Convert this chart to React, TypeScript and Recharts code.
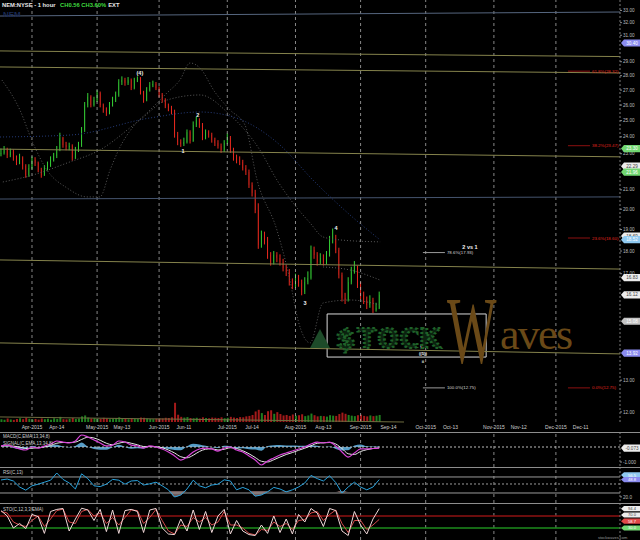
import React from "react";
import {
  ComposedChart,
  Bar,
  Line,
  Area,
  XAxis,
  YAxis,
  ReferenceLine,
  ReferenceArea,
  ReferenceDot,
  Cell,
} from "recharts";

const W = 640;
const MAIN_H = 436;
const FONT = "'Liberation Sans', Arial, sans-serif";
const X_DOMAIN: [number, number] = [-10.32, 189.68];
const PRICE_DOMAIN: [number, number] = [11.7, 33.88];

// x values are trading days counted from Apr 1 2015
const monthStarts = [0, 21, 41, 63, 85, 106, 127, 149, 169];
const monthLabels = ["Apr-2015", "May-2015", "Jun-2015", "Jul-2015", "Aug-2015", "Sep-2015", "Oct-2015", "Nov-2015", "Dec-2015"];
const midMonth = [8, 29, 49, 71, 94, 115, 135, 157, 177];
const midLabels = ["Apr-14", "May-13", "Jun-11", "Jul-14", "Aug-13", "Sep-14", "Oct-13", "Nov-12", "Dec-11"];

const firstDay = -10;
const closes = [
  23.04, 23.22, 22.93, 23.1, 22.76, 22.53, 22.76, 22.3, 21.8, 22.19,
  22.64, 22.47, 22.08, 21.8, 22.19, 22.36, 22.64, 22.87, 23.22, 23.93,
  23.51, 23.39, 23.45, 22.76, 23.22, 23.51, 24.42, 26.0, 26.54, 26.0,
  26.33, 26.8, 26.0, 25.68, 25.49, 26.0, 26.33, 26.67, 27.55, 27.69,
  27.49, 27.69, 27.14, 27.69, 27.83, 26.87, 26.33, 27.01, 27.35, 27.42,
  27.14, 26.67, 26.33, 25.94, 25.81, 25.55, 24.11, 23.69, 23.57, 23.69,
  24.29, 23.75, 24.73, 25.04, 24.73, 23.93, 24.29, 24.11, 23.81, 23.63,
  23.45, 23.22, 23.63, 23.93, 23.22, 22.76, 22.64, 22.53, 22.19, 21.97,
  21.26, 20.84, 19.96, 18.28, 18.75, 18.51, 17.82, 17.51, 17.82, 17.69,
  17.51, 17.25, 17.08, 16.65, 16.53, 16.82, 16.61, 16.24, 16.65, 16.82,
  18.05, 17.82, 17.51, 17.69, 17.51, 17.82, 18.51, 18.61, 18.05, 16.95,
  16.0, 15.91, 16.65, 17.08, 17.25, 16.53, 16.12, 15.91, 15.71, 15.91,
  15.52, 15.6, 16.12,
];
const highs = [
  23.3, 23.45, 23.35, 23.3, 23.25, 22.9, 23.0, 22.85, 22.4, 22.4,
  22.85, 22.8, 22.55, 22.2, 22.35, 22.55, 22.85, 23.05, 23.45, 24.25,
  24.0, 23.7, 23.65, 23.55, 23.4, 23.7, 24.6, 26.2, 26.8, 26.65,
  26.55, 27.0, 26.9, 26.1, 25.85, 26.2, 26.55, 26.9, 27.75, 27.95,
  27.85, 27.9, 27.8, 27.85, 27.95, 27.9, 26.95, 27.2, 27.55, 27.65,
  27.55, 27.25, 26.8, 26.45, 26.1, 25.95, 25.7, 24.3, 23.85, 23.95,
  24.45, 24.4, 24.95, 25.25, 25.15, 24.85, 24.45, 24.4, 24.25, 23.95,
  23.8, 23.6, 23.8, 24.2, 24.05, 23.35, 22.95, 22.85, 22.65, 22.35,
  22.1, 21.4, 21.0, 20.3, 18.95, 18.9, 18.65, 17.95, 18.0, 17.95,
  17.85, 17.65, 17.4, 17.2, 16.8, 17.0, 16.95, 16.75, 16.85, 17.1,
  18.25, 18.2, 17.95, 17.9, 17.85, 18.0, 18.7, 19.05, 18.75, 18.15,
  17.05, 16.2, 16.85, 17.3, 17.55, 17.35, 16.65, 16.25, 16.05, 16.1,
  16.0, 15.8, 16.25,
];
const lows = [
  22.85, 22.95, 22.75, 22.8, 22.6, 22.35, 22.4, 22.1, 21.65, 21.7,
  22.1, 22.3, 21.95, 21.65, 21.75, 22.05, 22.25, 22.55, 22.75, 23.15,
  23.35, 23.2, 23.2, 22.6, 22.7, 23.1, 23.4, 24.3, 25.85, 25.85,
  25.9, 26.2, 25.85, 25.5, 25.3, 25.4, 25.9, 26.2, 26.55, 27.35,
  27.3, 27.35, 27.0, 27.05, 27.55, 26.7, 26.15, 26.25, 26.9, 27.2,
  27.0, 26.5, 26.15, 25.8, 25.6, 25.4, 23.95, 23.5, 23.4, 23.45,
  23.6, 23.6, 23.7, 24.6, 24.55, 23.8, 23.85, 23.95, 23.65, 23.45,
  23.3, 23.05, 23.1, 23.55, 23.05, 22.6, 22.45, 22.35, 22.05, 21.8,
  21.1, 20.65, 19.8, 18.1, 18.15, 18.3, 17.65, 17.35, 17.4, 17.5,
  17.35, 17.1, 16.9, 16.5, 16.35, 16.4, 16.45, 16.1, 16.15, 16.55,
  16.75, 17.65, 17.35, 17.4, 17.35, 17.4, 17.75, 18.35, 17.9, 16.8,
  15.85, 15.75, 15.85, 16.55, 17.0, 16.4, 15.95, 15.75, 15.55, 15.6,
  15.4, 15.45, 15.55,
];
const volumes = [
  1.2, 1.0, 1.5, 1.1, 0.9, 1.3, 1.6, 1.2, 1.8, 1.4,
  1.1, 1.3, 1.0, 1.5, 1.2, 1.4, 1.0, 1.6, 1.3, 2.2,
  1.2, 1.1, 1.4, 1.7, 1.3, 1.5, 2.4, 2.8, 1.9, 1.5,
  1.6, 1.4, 1.3, 1.8, 1.5, 1.2, 1.4, 1.6, 2.0, 1.5,
  1.3, 1.2, 1.6, 1.4, 1.3, 1.9, 1.8, 1.5, 1.3, 1.2,
  1.4, 1.6, 1.5, 1.8, 1.7, 2.0, 8.2, 3.1, 2.2, 1.9,
  2.1, 1.7, 1.6, 1.8, 1.5, 2.0, 1.7, 1.6, 1.9, 1.8,
  1.7, 2.0, 1.6, 1.8, 2.2, 1.9, 1.7, 2.1, 2.0, 2.4,
  2.6, 3.0, 4.5, 5.2, 3.8, 3.0, 4.6, 5.0, 3.5, 4.2,
  3.4, 2.8, 3.0, 2.6, 3.2, 2.7, 2.9, 3.3, 2.5, 2.8,
  3.6, 2.9, 2.4, 2.6, 2.5, 2.3, 2.9, 2.7, 2.6, 3.4,
  4.0, 3.5, 3.0, 2.7, 2.5, 2.9, 3.1, 2.6, 2.4, 2.8,
  2.5, 2.7, 3.0,
];

// labels under the value tags are not drawn
const priceTicks = [12, 13, 17, 18, 19, 20, 21, 23, 24, 25, 26, 27, 28, 29, 31, 32, 33];

// dotted envelope lines, [day, price]
const envelopeA: [number, number][] = [
  [-9.7, 27.69], [-3.9, 25.68], [0.3, 23.63], [4.8, 22.08], [11.3, 21.1], [17.7, 20.63], [21.9, 20.63],
  [25.2, 22.08], [28.4, 23.39], [32.6, 24.61], [38.1, 25.68], [43.5, 26.8], [47.7, 27.69], [51, 28.91],
  [54.2, 28.54], [59, 26.87], [63.9, 25.68], [68.7, 24.73], [72.6, 21.53], [79, 18.98], [83.2, 16.73],
  [85.8, 15.13], [89.7, 14.28], [93.9, 15.79], [102.6, 15.91], [112.3, 15.71],
];
const envelopeB: [number, number][] = [
  [-9.4, 21.42], [0.3, 21.8], [11.3, 22.47], [21.9, 23.22], [34.8, 25.04], [43.5, 26.33], [54.2, 26.67],
  [63.9, 25.36], [73.5, 23.22], [79, 21.53], [84.2, 20.32], [89.7, 19.32], [93.9, 18.65], [99.4, 18.51],
  [112.3, 18.42],
];
const envelopeMid: [number, number][] = [[93.9, 17.29], [102.6, 17.16], [112.3, 16.73]];
const longAverage: [number, number][] = [
  [-10.3, 23.99], [12.3, 24.11], [38.1, 25.17], [54.2, 25.55], [64.8, 25.24], [80, 23.51],
  [90.6, 21.53], [102.6, 19.71], [112.3, 18.51],
];

// trend lines: price at left edge, price at right end, day of right end
const trendLeft = [32.54, 29.8, 28.62, 23.27, 20.52, 17.6, 14.28, 11.85];
const trendRight = [32.87, 29.38, 28.19, 22.82, 20.63, 17.2, 13.89, 11.7];
const trendEnd = [189.68, 189.68, 189.68, 189.68, 189.68, 189.68, 189.68, 120];
const TREND_COLORS = ["#56667f", "#85834c", "#85834c", "#85834c", "#45546e", "#85834c", "#85834c", "#6f6d40"];

const fibRight: [string, number][] = [["61.8%", 28.32], ["38.2%", 23.47], ["23.6%", 18.6], ["0.0%", 12.75]];
const fibLeft: [string, number][] = [["78.6%", 17.93], ["100.0%", 12.75]];

const waveLabels: [string, number, number][] = [
  ["(4)", 34.8, 28.19], ["1", 48.7, 23.16], ["2", 53.5, 25.36], ["3", 88.1, 15.79], ["4", 98.1, 19.05],
];
const waveStack: [string, number][] = [["5", 14.45], ["(5)", 14.17], ["((5))", 13.89], ["ii", 13.61]];

const priceTags: [string, number, string][] = [
  ["30.40", 30.4, "blue"], ["23.30", 23.3, "green"], ["22.29", 22.29, "white"], ["21.96", 21.96, "green"],
  ["18.69", 18.69, "white"], ["18.52", 18.52, "sky"], ["16.83", 16.83, "white"], ["16.12", 16.12, "white"],
  ["15.08", 15.08, "gray"], ["13.92", 13.92, "blue"],
];
const TAG_STYLE: Record<string, [string, string]> = {
  blue: ["#8b8cf0", "#ffffff"],
  green: ["#72d772", "#ffffff"],
  white: ["#ececec", "#444444"],
  sky: ["#8fc9f1", "#ffffff"],
  gray: ["#c4c4c4", "#ffffff"],
  red: ["#e04848", "#ffffff"],
};

// oscillators, sampled every 2nd day from day -10
const macd = [
  0.07, 0.13, 0, -0.13, -0.2, 0, -0.07, 0.07, 0.2, 0.4,
  0.33, 0.27, 0.4, 0.8, 0.67, 0.47, 0.27, 0.07, 0.13, 0.4,
  0.33, 0.13, 0.07, -0.07, 0.07, 0, -0.13, -0.33, -0.6, -0.87,
  -0.67, -0.33, -0.13, -0.07, -0.13, -0.27, -0.07, 0, -0.2, -0.33,
  -0.6, -0.87, -1.2, -0.93, -0.73, -0.53, -0.4, -0.27, -0.13, 0,
  0.2, 0.33, 0.27, 0.33, 0.07, -0.33, -0.67, -0.4, -0.13, -0.13,
  -0.1, -0.07,
];
const signal = [
  0.05, 0.08, 0.06, 0, -0.1, -0.08, -0.05, 0, 0.1, 0.25,
  0.3, 0.3, 0.33, 0.5, 0.65, 0.6, 0.45, 0.25, 0.15, 0.25,
  0.33, 0.25, 0.15, 0.03, 0.02, 0.02, -0.05, -0.2, -0.4, -0.65,
  -0.72, -0.55, -0.3, -0.15, -0.12, -0.2, -0.15, -0.05, -0.1, -0.25,
  -0.45, -0.7, -0.95, -1.0, -0.85, -0.67, -0.5, -0.37, -0.22, -0.08,
  0.08, 0.25, 0.28, 0.3, 0.2, -0.1, -0.45, -0.5, -0.3, -0.18,
  -0.1, -0.05,
];
const macdHist = [
  0.02, 0.05, -0.06, -0.13, -0.1, 0.08, -0.02, 0.07, 0.1, 0.15,
  0.03, -0.03, 0.07, 0.3, 0.02, -0.13, -0.18, -0.18, -0.02, 0.15,
  0, -0.12, -0.08, -0.1, 0.05, -0.02, -0.08, -0.13, -0.2, -0.22,
  0.05, 0.22, 0.17, 0.08, -0.01, -0.07, 0.08, 0.05, -0.1, -0.08,
  -0.15, -0.17, -0.25, 0.07, 0.12, 0.14, 0.1, 0.1, 0.09, 0.08,
  0.12, 0.08, -0.01, 0.03, -0.13, -0.23, -0.22, 0.1, 0.17, 0.05,
  0.03, 0.05,
];
const rsi = [
  48.2, 49.8, 46.5, 36.5, 31.2, 38.5, 41.2, 44.5, 47.8, 59.8,
  49.2, 43.2, 33.2, 58.5, 50.5, 38.5, 37.2, 41.2, 49.2, 47.8,
  41.2, 46.5, 47.2, 39.8, 41.8, 44.5, 38.5, 31.8, 19.8, 23.2,
  33.2, 47.8, 38.5, 35.2, 39.8, 41.2, 48.5, 46.5, 31.8, 35.8,
  31.8, 21.2, 23.2, 28.5, 35.8, 33.2, 28.5, 31.8, 36.5, 43.2,
  55.8, 50.5, 46.5, 55.2, 43.8, 26.5, 36.5, 44.5, 36.5, 31.8,
  36.5, 48.8,
];
const stochK = [
  88, 70, 30, 45, 28, 75, 68, 12, 85, 92,
  95, 20, 60, 96, 90, 55, 92, 18, 90, 12,
  88, 92, 85, 15, 90, 95, 30, 10, 8, 60,
  20, 90, 25, 85, 15, 70, 92, 10, 55, 20,
  8, 5, 40, 12, 70, 15, 60, 10, 75, 50,
  95, 80, 35, 95, 88, 20, 5, 85, 40, 10,
  60, 94.4,
];
const stochD = [
  85, 80, 50, 40, 35, 55, 70, 35, 60, 88,
  93, 50, 45, 85, 92, 70, 80, 45, 65, 40,
  65, 90, 88, 45, 65, 92, 55, 20, 10, 40,
  35, 65, 50, 65, 40, 50, 85, 40, 40, 30,
  12, 7, 25, 22, 50, 35, 45, 25, 55, 58,
  80, 85, 55, 75, 90, 45, 15, 55, 55, 25,
  40, 58.7,
];
const RSI_FLOOR = 30;
const rsiLevels = [53.2, 26.5];
const rsiMid = 41.5;
const stochLevels = [70, 30];

const candles = closes.map((c, k) => {
  const o = k === 0 ? c : closes[k - 1];
  return { i: firstDay + k, open: o, close: c, high: highs[k], low: lows[k], range: [lows[k], highs[k]], vol: volumes[k], up: c >= o };
});
const oscRows = macd.map((m, k) => ({
  i: firstDay + 2 * k,
  macd: m,
  signal: signal[k],
  hist: macdHist[k],
  rsi: rsi[k],
  rsiLow: [Math.min(rsi[k], RSI_FLOOR), RSI_FLOOR],
  k: stochK[k],
  d: stochD[k],
}));
const pairs = (pts: [number, number][]) => pts.map(([i, v]) => ({ i, v }));

const dateLabel = (v: number) => {
  const a = monthStarts.indexOf(v);
  if (a >= 0) return monthLabels[a];
  const b = midMonth.indexOf(v);
  return b >= 0 ? midLabels[b] : "";
};

// the bar spans low..high on a log axis, so the body is placed inside it in log space
const CandleShape = (props: any) => {
  const { x, y, width, height, payload } = props;
  if (x == null || y == null || !payload) return null;
  const top = height < 0 ? y + height : y;
  const h = Math.abs(height);
  const span = Math.log(payload.high) - Math.log(payload.low) || 1;
  const at = (p: number) => top + (h * (Math.log(payload.high) - Math.log(p))) / span;
  const b1 = at(Math.max(payload.open, payload.close));
  const b2 = at(Math.min(payload.open, payload.close));
  const color = payload.up ? "#36d136" : "#ec2a1f";
  return (
    <g>
      <line x1={x + width / 2} x2={x + width / 2} y1={top} y2={top + h} stroke={color} strokeWidth={1} />
      <rect x={x} y={b1} width={width} height={Math.max(b2 - b1, 1.2)} fill={color} />
    </g>
  );
};

const Tag = (props: any) => {
  const { viewBox, text, kind, dy = 0, half = 3.6, size = 4.6 } = props;
  if (!viewBox) return null;
  const [bg, fg] = TAG_STYLE[kind];
  const x = viewBox.x + viewBox.width + 1;
  const y = viewBox.y + dy;
  return (
    <g>
      <path d={`M${x},${y} L${x + 3},${y - half} L${x + 19},${y - half} L${x + 19},${y + half} L${x + 3},${y + half} Z`} fill={bg} />
      <text x={x + 11} y={y + size * 0.36} textAnchor="middle" fontSize={size} fill={fg} fontFamily={FONT}>{text}</text>
    </g>
  );
};

const SideText = (props: any) => {
  const { viewBox, text, color } = props;
  if (!viewBox) return null;
  return (
    <text x={viewBox.x + viewBox.width + 2} y={viewBox.y + 1.6} fontSize={4.4} fill={color} fontFamily={FONT}>{text}</text>
  );
};

const WaveText = (props: any) => {
  const { viewBox, text, size } = props;
  if (!viewBox) return null;
  return (
    <text x={viewBox.x + viewBox.width / 2} y={viewBox.y + viewBox.height / 2} dy="0.35em" textAnchor="middle" fontSize={size} fontWeight="bold" fill="#f0f0f0" fontFamily={FONT}>
      {text}
    </text>
  );
};

const monthGrid = () =>
  monthStarts.map((m) => <ReferenceLine key={`m${m}`} x={m} stroke="#b4b4b4" strokeOpacity={0.75} strokeDasharray="3 3" />);

const axisLine = { stroke: "#7a7a7a", strokeDasharray: "2 2" };
const axisTick = { fill: "#bdbdbd", fontSize: 4.6, fontFamily: FONT };

export default function App() {
  return (
    <div style={{ position: "absolute", left: 0, top: 0, width: W, height: 540, background: "#000", overflow: "hidden" }}>
      {/* volume under the prices */}
      <div style={{ position: "absolute", left: 0, top: 0 }}>
        <ComposedChart width={W} height={MAIN_H} data={candles} margin={{ top: 0, right: 20, bottom: 14, left: 0 }}>
          <XAxis dataKey="i" type="number" domain={X_DOMAIN} allowDataOverflow hide />
          <YAxis domain={[0, 180]} allowDataOverflow hide />
          <Bar dataKey="vol" barSize={2} isAnimationActive={false}>
            {candles.map((c, k) => (
              <Cell key={k} fill={c.up ? "#1f7f1f" : "#a31a1a"} />
            ))}
          </Bar>
        </ComposedChart>
      </div>

      <div style={{ position: "absolute", left: 0, top: 0 }}>
        <ComposedChart width={W} height={MAIN_H} data={candles} margin={{ top: 0, right: 0, bottom: 0, left: 0 }}>
          <XAxis
            dataKey="i"
            type="number"
            domain={X_DOMAIN}
            allowDataOverflow
            ticks={[...monthStarts, ...midMonth]}
            interval={0}
            tickFormatter={dateLabel}
            height={14}
            axisLine={false}
            tickLine={false}
            tickSize={0}
            tickMargin={3}
            tick={{ fill: "#cfcfcf", fontSize: 5, fontFamily: FONT }}
          />
          <YAxis
            orientation="right"
            width={20}
            scale="log"
            domain={PRICE_DOMAIN}
            allowDataOverflow
            ticks={priceTicks}
            interval={0}
            tickFormatter={(v: number) => v.toFixed(2)}
            axisLine={axisLine}
            tickLine={{ stroke: "#8a8a8a" }}
            tickSize={2}
            tickMargin={1}
            tick={axisTick}
          />
          {monthGrid()}
          {trendLeft.map((p, k) => (
            <ReferenceLine
              key={`t${k}`}
              segment={[{ x: X_DOMAIN[0], y: p }, { x: trendEnd[k], y: trendRight[k] }]}
              stroke={TREND_COLORS[k]}
              strokeWidth={1}
              ifOverflow="visible"
            />
          ))}
          <Line data={pairs(envelopeA)} dataKey="v" type="monotone" stroke="#5a5a5a" strokeDasharray="1 2" dot={false} activeDot={false} isAnimationActive={false} />
          <Line data={pairs(envelopeB)} dataKey="v" type="monotone" stroke="#5a5a5a" strokeDasharray="1 2" dot={false} activeDot={false} isAnimationActive={false} />
          <Line data={pairs(envelopeMid)} dataKey="v" type="monotone" stroke="#5a5a5a" strokeDasharray="1 2" dot={false} activeDot={false} isAnimationActive={false} />
          <Line data={pairs(longAverage)} dataKey="v" type="monotone" stroke="#263c7a" strokeDasharray="1 2" dot={false} activeDot={false} isAnimationActive={false} />
          <Bar dataKey="range" barSize={3} shape={<CandleShape />} isAnimationActive={false} />
          {fibRight.map(([pct, v]) => (
            <ReferenceLine
              key={`fr${pct}`}
              segment={[{ x: 172.9, y: v }, { x: 180, y: v }]}
              stroke="#8c1010"
              label={<SideText text={`${pct}(${v.toFixed(2)})`} color="#e0261e" />}
            />
          ))}
          {fibLeft.map(([pct, v]) => (
            <ReferenceLine
              key={`fl${pct}`}
              segment={[{ x: 126.1, y: v }, { x: 133.2, y: v }]}
              stroke="#9a9a9a"
              label={<SideText text={`${pct}(${v.toFixed(2)})`} color="#d8d8d8" />}
            />
          ))}
          <ReferenceArea x1={95.2} x2={146.5} y1={13.78} y2={15.36} fill="none" stroke="#d9d9d9" strokeWidth={1} ifOverflow="visible" />
          {waveLabels.map(([t, i, v]) => (
            <ReferenceDot key={`w${t}`} x={i} y={v} r={0} stroke="none" label={<WaveText text={t} size={5.5} />} />
          ))}
          {waveStack.map(([t, v]) => (
            <ReferenceDot key={`s${t}`} x={126.1} y={v} r={0} stroke="none" label={<WaveText text={t} size={4.2} />} />
          ))}
          <ReferenceDot x={141.3} y={18.19} r={0} stroke="none" label={<WaveText text="2 vs 1" size={5.5} />} />
        </ComposedChart>
      </div>

      {/* price tags on the right axis */}
      <div style={{ position: "absolute", left: 0, top: 0 }}>
        <ComposedChart width={W} height={MAIN_H} data={candles} margin={{ top: 0, right: 20, bottom: 14, left: 0 }}>
          <XAxis dataKey="i" type="number" domain={X_DOMAIN} allowDataOverflow hide />
          <YAxis scale="log" domain={PRICE_DOMAIN} allowDataOverflow hide />
          {priceTags.map(([t, v, kind]) => (
            <ReferenceLine key={`p${t}`} y={v} stroke="none" label={<Tag text={t} kind={kind} />} />
          ))}
        </ComposedChart>
      </div>

      {/* MACD */}
      <div style={{ position: "absolute", left: 0, top: 432 }}>
        <ComposedChart width={W} height={35} data={oscRows} margin={{ top: 0, right: 0, bottom: 0, left: 0 }}>
          <XAxis dataKey="i" type="number" domain={X_DOMAIN} allowDataOverflow hide />
          <YAxis
            orientation="right"
            width={20}
            domain={[-1.333, 1.0]}
            allowDataOverflow
            ticks={[-1]}
            tickFormatter={(v: number) => v.toFixed(3)}
            axisLine={axisLine}
            tickLine={{ stroke: "#8a8a8a" }}
            tickSize={2}
            tickMargin={1}
            tick={axisTick}
          />
          {monthGrid()}
          <ReferenceLine y={0} stroke="#bdbdbd" strokeDasharray="2 2" />
          <Area dataKey="hist" type="monotone" baseValue={0} fill="#65b9ea" fillOpacity={0.85} stroke="none" isAnimationActive={false} />
          <Line dataKey="signal" type="monotone" stroke="#e6e6e6" strokeWidth={1} dot={false} isAnimationActive={false} />
          <Line dataKey="macd" type="monotone" stroke="#d844d8" strokeWidth={1.2} dot={false} isAnimationActive={false} />
          <ReferenceLine y={-0.073} stroke="none" label={<Tag text="-0.073" kind="white" />} />
        </ComposedChart>
      </div>

      {/* RSI */}
      <div style={{ position: "absolute", left: 0, top: 467 }}>
        <ComposedChart width={W} height={36} data={oscRows} margin={{ top: 0, right: 0, bottom: 0, left: 0 }}>
          <XAxis dataKey="i" type="number" domain={X_DOMAIN} allowDataOverflow hide />
          <YAxis
            orientation="right"
            width={20}
            domain={[9.83, 69.83]}
            allowDataOverflow
            ticks={[20]}
            tickFormatter={(v: number) => v.toFixed(1)}
            axisLine={axisLine}
            tickLine={{ stroke: "#8a8a8a" }}
            tickSize={2}
            tickMargin={1}
            tick={axisTick}
          />
          {monthGrid()}
          {rsiLevels.map((l) => (
            <ReferenceLine key={`r${l}`} y={l} stroke="#9a9a9a" />
          ))}
          <ReferenceLine y={rsiMid} stroke="#9a9a9a" strokeDasharray="2 2" />
          <Area dataKey="rsiLow" type="monotone" fill="#7d6464" fillOpacity={0.9} stroke="none" isAnimationActive={false} />
          <Line dataKey="rsi" type="linear" stroke="#2aa2dc" strokeWidth={1} dot={false} isAnimationActive={false} />
          <ReferenceLine y={56.5} stroke="none" label={<Tag text="56.5" kind="sky" half={2.7} size={4.2} />} />
          <ReferenceLine y={48.8} stroke="none" label={<Tag text="48.8" kind="blue" half={2.7} size={4.2} />} />
        </ComposedChart>
      </div>

      {/* Stochastic */}
      <div style={{ position: "absolute", left: 0, top: 503 }}>
        <ComposedChart width={W} height={37} data={oscRows} margin={{ top: 0, right: 0, bottom: 0, left: 0 }}>
          <XAxis dataKey="i" type="number" domain={X_DOMAIN} allowDataOverflow hide />
          <YAxis orientation="right" width={20} domain={[-10, 113.33]} allowDataOverflow ticks={[]} axisLine={axisLine} tick={false} />
          {monthGrid()}
          <ReferenceLine y={stochLevels[0]} stroke="#8e1212" strokeWidth={1.5} />
          <ReferenceLine y={stochLevels[1]} stroke="#1c8c1c" strokeWidth={1.5} />
          <Line dataKey="d" type="linear" stroke="#d54b4b" strokeWidth={1} dot={false} isAnimationActive={false} />
          <Line dataKey="k" type="linear" stroke="#f0d8d8" strokeWidth={1} dot={false} isAnimationActive={false} />
          <ReferenceLine y={94.4} stroke="none" label={<Tag text="94.4" kind="white" half={2.6} size={4.1} />} />
          <ReferenceLine y={70} stroke="none" label={<Tag text="70.0" kind="white" dy={-1} half={2.6} size={4.1} />} />
          <ReferenceLine y={58.7} stroke="none" label={<Tag text="58.7" kind="red" dy={1.8} half={2.6} size={4.1} />} />
          <ReferenceLine y={30} stroke="none" label={<Tag text="30.0" kind="green" half={2.6} size={4.1} />} />
        </ComposedChart>
      </div>

      {/* panel separators */}
      {[432, 467, 503].map((t) => (
        <div key={t} style={{ position: "absolute", left: 0, top: t, width: W, height: 1, background: "#8d8d8d" }} />
      ))}

      {/* titles and watermark */}
      <svg width={W} height={540} style={{ position: "absolute", left: 0, top: 0, pointerEvents: "none" }}>
        <text x={3} y={17} fontSize={8} fontWeight="bold" fill="#1a2a55" fontFamily={FONT}>NEM</text>
        <text x={2} y={7} fontSize={5.8} fontWeight="bold" fontFamily={FONT}>
          <tspan fill="#e8e8e8">NEM:NYSE - 1 hour </tspan>
          <tspan fill="#3fdc3f" dx={3}>CH0.56 CH3.60%</tspan>
          <tspan fill="#e8e8e8" dx={2}>EXT</tspan>
        </text>
        <text x={3} y={438} fontSize={4.5} fill="#cfcfcf" fontFamily={FONT}>MACD(C,EMA,13,34,8)</text>
        <text x={3} y={445} fontSize={4.5} fill="#cfcfcf" fontFamily={FONT}>SIGNAL(C,EMA,13,34,8)</text>
        <text x={3} y={474} fontSize={4.5} fill="#cfcfcf" fontFamily={FONT}>RSI(C,13)</text>
        <text x={3} y={511} fontSize={4.5} fill="#cfcfcf" fontFamily={FONT}>STO(C,12,3,3,EMA)</text>
        <polygon points="310,348 320,329 330,348" fill="#1d4b29" />
        <text x={335} y={348} fontSize={27} fontWeight="bold" fontFamily="'DejaVu Sans Mono', monospace" fill="#0b220f" stroke="#1f6129" strokeWidth={2.2} strokeDasharray="2 2" textLength={106} lengthAdjust="spacingAndGlyphs">
          $TOCK
        </text>
        <text transform="translate(447,363) scale(1.05,1.9)" fontSize={50} fontFamily="'Liberation Serif', serif" fill="#6a4917">W</text>
        <text x={500} y={349} fontSize={44} fontFamily="'Liberation Serif', serif" fill="#6a4917" textLength={73}>aves</text>
        <text x={598} y={539} fontSize={4} fill="#9a9a9a" fontFamily={FONT}>stockwaves.com</text>
      </svg>
    </div>
  );
}
